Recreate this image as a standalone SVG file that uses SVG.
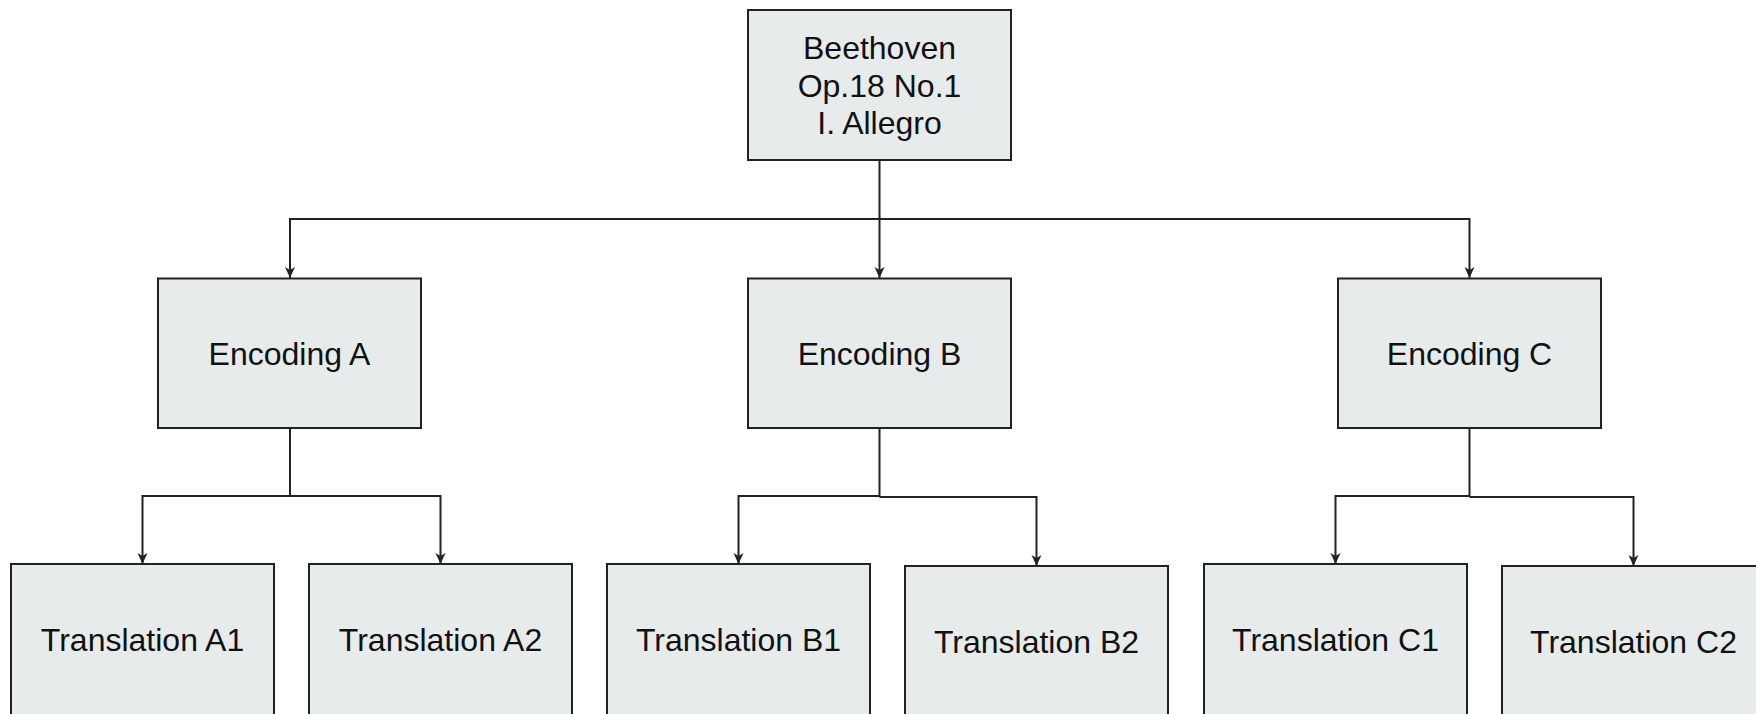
<svg xmlns="http://www.w3.org/2000/svg" width="1756" height="714" viewBox="0 0 1756 714">
<style>
.box{fill:#e8ebec;stroke:#222;stroke-width:2}
.lbl{font-family:"Liberation Sans",Arial,sans-serif;font-size:32px;fill:#111;text-anchor:middle}
.conn{fill:none;stroke:#222;stroke-width:2}
</style>
<defs>
<marker id="arr" markerUnits="userSpaceOnUse" markerWidth="14" markerHeight="12" refX="12" refY="6" orient="auto">
<path d="M12,6 L1,1 L4,6 L1,11 Z" fill="#222"/>
</marker>
</defs>
<rect width="1756" height="714" fill="#fff"/>
<g id="connectors">
<path class="conn" d="M879.5,160 V219 H290 V278" marker-end="url(#arr)"/>
<path class="conn" d="M879.5,219 V278" marker-end="url(#arr)"/>
<path class="conn" d="M879.5,219 H1469.5 V278" marker-end="url(#arr)"/>
<path class="conn" d="M290,428 V496 H142.5 V564" marker-end="url(#arr)"/>
<path class="conn" d="M290,496 H440.5 V564" marker-end="url(#arr)"/>
<path class="conn" d="M879.5,428 V496 H738.5 V564" marker-end="url(#arr)"/>
<path class="conn" d="M879.5,497 H1036.5 V566" marker-end="url(#arr)"/>
<path class="conn" d="M1469.5,428 V496 H1335.5 V564" marker-end="url(#arr)"/>
<path class="conn" d="M1469.5,497 H1633.5 V566" marker-end="url(#arr)"/>
</g>
<g id="root">
<rect class="box" x="748" y="10" width="263" height="150"/>
<text class="lbl" x="879.5" y="59">Beethoven</text>
<text class="lbl" x="879.5" y="96.5">Op.18 No.1</text>
<text class="lbl" x="879.5" y="134">I. Allegro</text>
</g>
<g id="encA">
<rect class="box" x="158" y="278.5" width="263" height="149.5"/>
<text class="lbl" x="289.5" y="365">Encoding A</text>
</g>
<g id="encB">
<rect class="box" x="748" y="278.5" width="263" height="149.5"/>
<text class="lbl" x="879.5" y="365">Encoding B</text>
</g>
<g id="encC">
<rect class="box" x="1338" y="278.5" width="263" height="149.5"/>
<text class="lbl" x="1469.5" y="365">Encoding C</text>
</g>
<g id="transA1">
<rect class="box" x="11" y="564" width="263" height="152"/>
<text class="lbl" x="142.5" y="651">Translation A1</text>
</g>
<g id="transA2">
<rect class="box" x="309" y="564" width="263" height="152"/>
<text class="lbl" x="440.5" y="651">Translation A2</text>
</g>
<g id="transB1">
<rect class="box" x="607" y="564" width="263" height="152"/>
<text class="lbl" x="738.5" y="651">Translation B1</text>
</g>
<g id="transB2">
<rect class="box" x="905" y="566" width="263" height="152"/>
<text class="lbl" x="1036.5" y="653">Translation B2</text>
</g>
<g id="transC1">
<rect class="box" x="1204" y="564" width="263" height="152"/>
<text class="lbl" x="1335.5" y="651">Translation C1</text>
</g>
<g id="transC2">
<rect class="box" x="1502" y="566" width="263" height="152"/>
<text class="lbl" x="1633.5" y="653">Translation C2</text>
</g>
</svg>
